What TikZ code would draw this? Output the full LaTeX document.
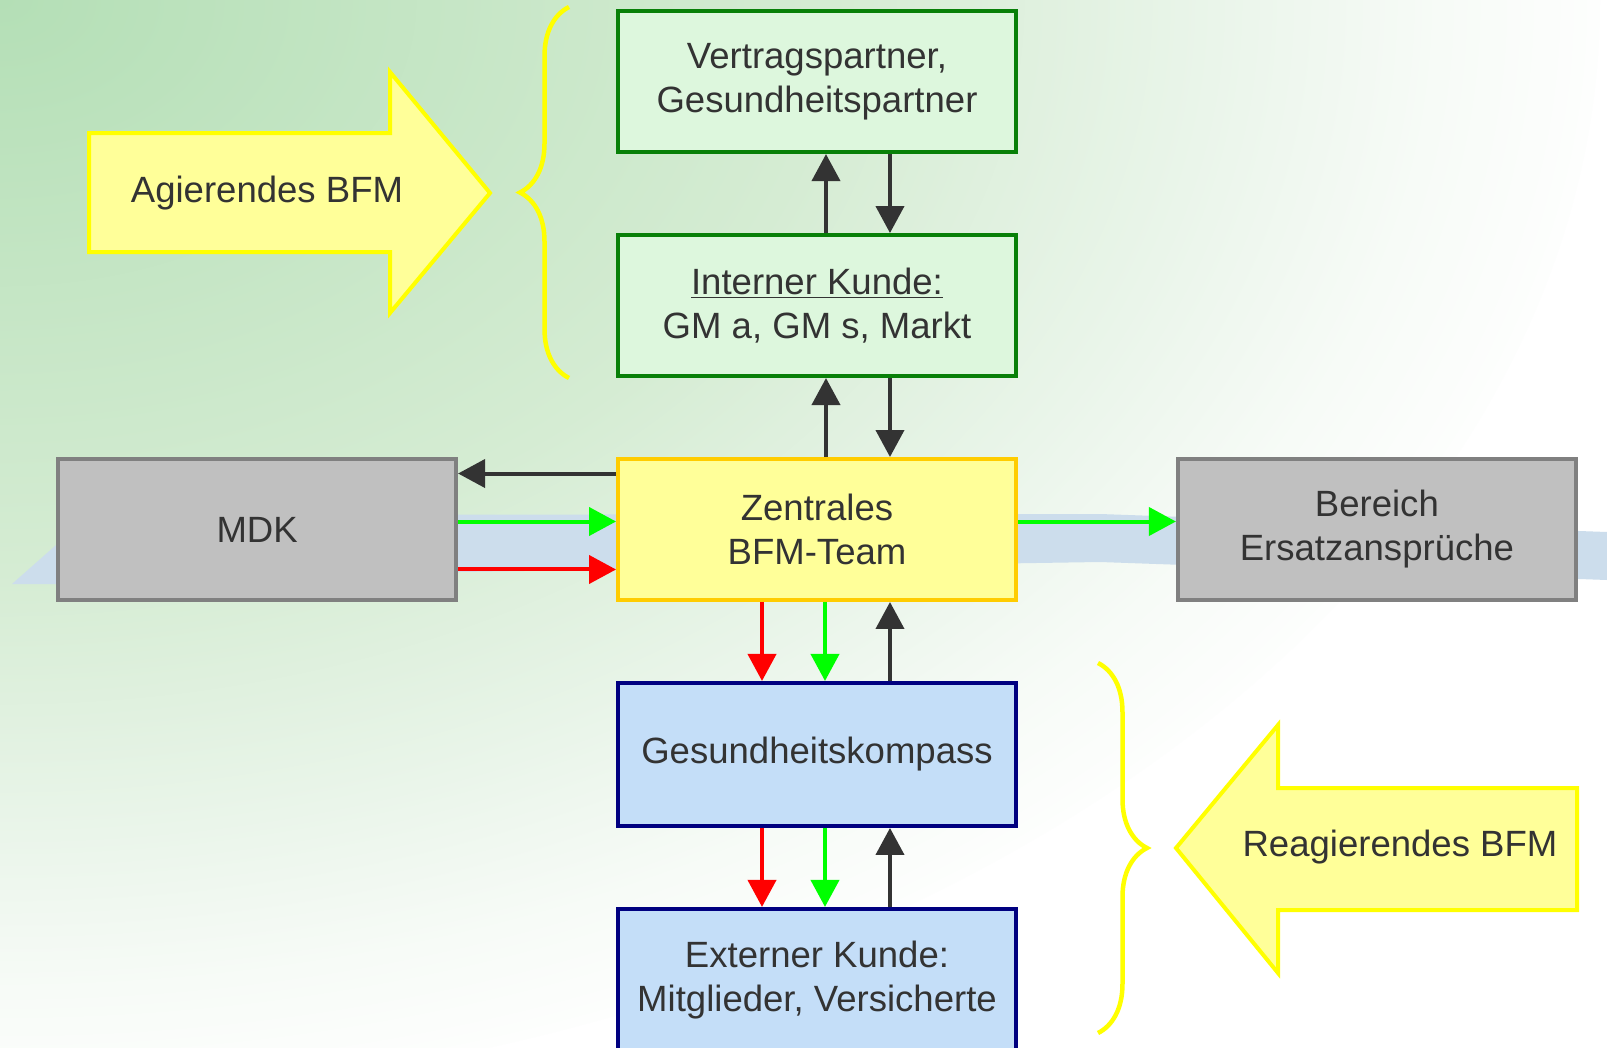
\documentclass[tikz,border=0pt]{standalone}
\usepackage{fontspec}
\setmainfont{Liberation Sans}
\usetikzlibrary{positioning,arrows.meta,decorations.pathreplacing}

\definecolor{txtgray}{HTML}{333333}
\definecolor{boxgreen}{HTML}{088008}
\definecolor{fillgreen}{HTML}{DDF7DD}
\definecolor{boxorange}{HTML}{FFCC00}
\definecolor{fillyellow}{HTML}{FFFF99}
\definecolor{boxgrey}{HTML}{808080}
\definecolor{fillgrey}{HTML}{C0C0C0}
\definecolor{boxnavy}{HTML}{000080}
\definecolor{fillblue}{HTML}{C4DEF8}
\definecolor{bandblue}{HTML}{CCDDEC}
\definecolor{arrdark}{HTML}{333333}
\definecolor{arrgreen}{HTML}{00FF00}
\definecolor{arrred}{HTML}{FF0000}
\definecolor{markyellow}{HTML}{FFFF00}
\definecolor{bgA}{HTML}{B4DFB6}
\definecolor{bgB}{HTML}{D5ECD3}
\definecolor{bgC}{HTML}{EAF5EA}
\definecolor{bgD}{HTML}{F7FBF7}
\definecolor{bgE}{HTML}{FDFEFD}

\pgfdeclareradialshading{bgglow}{\pgfpoint{0bp}{0bp}}{color(0bp)=(bgA); color(13bp)=(bgB); color(19bp)=(bgC); color(22.5bp)=(bgD); color(25bp)=(bgE); color(50bp)=(bgE)}

\tikzset{
  box/.style={draw, line width=0.08cm, minimum width=7.96cm, minimum height=2.82cm,
    inner sep=0pt, align=center, text=txtgray, font=\fontsize{20.8}{25}\selectfont},
  partnerbox/.style={box, draw=boxgreen, fill=fillgreen},
  teambox/.style={box, draw=boxorange, fill=fillyellow},
  greybox/.style={box, draw=boxgrey, fill=fillgrey},
  bluebox/.style={box, draw=boxnavy, fill=fillblue, minimum height=2.86cm},
  link/.style={line width=0.08cm, -{Triangle[length=0.54cm,width=0.56cm]}},
  blk/.style={link, draw=arrdark},
  grn/.style={link, draw=arrgreen},
  rd/.style={link, draw=arrred},
  bigarrow/.style={draw=markyellow, fill=fillyellow, line width=0.08cm, line join=miter},
  bracepen/.style={draw=markyellow, line width=0.09cm, decorate, decoration={brace, amplitude=0.98cm}},
  tag/.style={text=txtgray, font=\fontsize{20.8}{25}\selectfont}
}

\begin{document}
\begin{tikzpicture}[x=0.02cm, y=-0.02cm, node distance=1.58cm and 3.16cm]
  \useasboundingbox (0,0) rectangle (1607,1048);
  % background
  \fill[white] (0,0) rectangle (1607,1048);
  \begin{scope}
    \clip (0,0) rectangle (1607,1048);
    \shade[shading=bgglow] (0,0) ellipse (1600 and 1100);
  \end{scope}
  \fill[bandblue] (12,584) -- (90,515) -- (1100,514) -- (1607,532) -- (1607,580) -- (1100,562) -- (460,572) -- (56,584) -- cycle;

  % braces and big arrows
  \draw[bracepen] (569,378) -- (569,7);
  \draw[bracepen] (1098,663) -- (1098,1033);
  \draw[bigarrow] (89,133) -- (390,133) -- (390,72) -- (490,193) -- (390,313) -- (390,252) -- (89,252) -- cycle;
  \draw[bigarrow] (1577,788) -- (1278,788) -- (1278,725) -- (1176,848) -- (1278,973) -- (1278,910) -- (1577,910) -- cycle;
  \node[tag] (agiert) at (267,193) {Agierendes BFM};
  \node[tag] (reagiert) at (1400,847) {Reagierendes BFM};

  % boxes
  \node[teambox] (zentral) at (817,529.5) {Zentrales\\ BFM-Team};
  \node[partnerbox] (intern) [above=of zentral] {\underline{Interner Kunde:}\\GM a, GM s, Markt};
  \node[partnerbox] (vertrag) [above=of intern] {Vertragspartner,\\Gesundheitspartner};
  \node[greybox] (mdk) [left=of zentral] {MDK};
  \node[greybox] (ersatz) [right=of zentral] {Bereich\\Ersatzansprüche};
  \node[bluebox] (kompass) [below=of zentral] {Gesundheitskompass};
  \node[bluebox] (extern) [below=of kompass] {Externer Kunde:\\Mitglieder, Versicherte};

  % connectors
  \draw[blk] ([xshift=0.18cm]intern.north) -- ([xshift=0.18cm]vertrag.south);
  \draw[blk] ([xshift=1.46cm]vertrag.south) -- ([xshift=1.46cm]intern.north);
  \draw[blk] ([xshift=0.18cm]zentral.north) -- ([xshift=0.18cm]intern.south);
  \draw[blk] ([xshift=1.46cm]intern.south) -- ([xshift=1.46cm]zentral.north);
  \draw[blk] ([yshift=1.12cm]zentral.west) -- ([yshift=1.12cm]mdk.east);
  \draw[grn] ([yshift=0.16cm]mdk.east) -- ([yshift=0.16cm]zentral.west);
  \draw[rd] ([yshift=-0.8cm]mdk.east) -- ([yshift=-0.8cm]zentral.west);
  \draw[grn] ([yshift=0.16cm]zentral.east) -- ([yshift=0.16cm]ersatz.west);
  \draw[rd] ([xshift=-1.1cm]zentral.south) -- ([xshift=-1.1cm]kompass.north);
  \draw[grn] ([xshift=0.16cm]zentral.south) -- ([xshift=0.16cm]kompass.north);
  \draw[blk] ([xshift=1.46cm]kompass.north) -- ([xshift=1.46cm]zentral.south);
  \draw[rd] ([xshift=-1.1cm]kompass.south) -- ([xshift=-1.1cm]extern.north);
  \draw[grn] ([xshift=0.16cm]kompass.south) -- ([xshift=0.16cm]extern.north);
  \draw[blk] ([xshift=1.46cm]extern.north) -- ([xshift=1.46cm]kompass.south);
\end{tikzpicture}
\end{document}
